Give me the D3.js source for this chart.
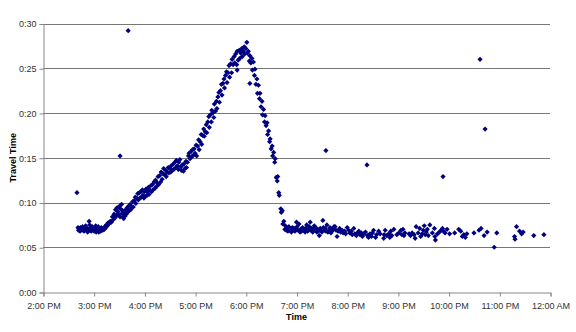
<!DOCTYPE html>
<html>
<head>
<meta charset="utf-8">
<script src="https://cdn.jsdelivr.net/npm/d3@7"></script>
<style>
  body { margin: 0; background: #fff; }
  svg { display: block; font-family: Arial, "Liberation Sans", sans-serif; }
</style>
</head>
<body>
<div id="chart"></div>
<script>
// [clock hour (24h, decimal), travel time in minutes]
const earlyFlat = [
  [14.69,7.2],[14.70,6.9],[14.71,7.1],[14.72,7.0],[14.73,6.8],[14.74,7.2],[14.75,7.0],[14.77,6.9],[14.78,7.3],[14.80,7.1],
  [14.81,6.8],[14.83,7.0],[14.84,7.4],[14.86,6.9],[14.87,7.1],[14.88,6.7],[14.90,7.0],[14.91,7.9],[14.92,7.5],[14.93,6.9],
  [14.94,7.2],[14.95,6.8],[14.96,7.0],[14.97,7.3],[14.99,6.9],[15.00,7.1],[15.01,6.8],[15.03,7.0],[15.04,7.4],[15.05,6.7],
  [15.06,7.2],[15.08,6.9],[15.09,7.3],[15.10,6.7],[15.11,6.9],[15.13,7.0],[15.14,6.8],[15.15,7.2],[15.17,7.0],[15.18,6.9],
  [15.19,7.1],[15.21,7.0],[15.22,7.3],[15.24,7.2],[15.25,7.5],[15.27,7.4],[15.28,7.7],[15.30,7.6],[15.31,7.8],[15.33,7.9]
]

const afternoonRise = [
  [15.35,7.8],[15.37,8.4],[15.39,8.1],[15.40,8.7],[15.42,8.3],[15.43,9.2],[15.45,8.5],[15.46,9.4],[15.47,8.8],[15.48,9.0],
  [15.50,8.6],[15.51,9.6],[15.52,8.4],[15.53,9.3],[15.55,9.8],[15.56,8.8],[15.57,9.1],[15.58,8.4],[15.59,8.2],[15.60,8.8],
  [15.62,8.5],[15.63,9.2],[15.64,8.7],[15.66,9.4],[15.67,8.9],[15.69,9.6],[15.70,9.1],[15.72,9.8],[15.73,9.2],[15.75,9.5],
  [15.77,10.1],[15.78,9.5],[15.80,10.2],[15.82,10.6],[15.83,9.9],[15.85,10.5],[15.87,11.0],[15.88,10.3],[15.90,11.1],[15.91,10.5],
  [15.93,11.2],[15.94,10.6],[15.96,11.4],[15.97,10.8],[15.99,10.5],
  [16.00,11.2],[16.02,10.7],[16.03,11.5],[16.05,10.8],[16.06,11.2],[16.08,11.7],[16.09,10.9],[16.11,11.4],[16.13,11.9],[16.14,11.2],
  [16.16,12.0],[16.17,11.4],[16.19,12.3],[16.21,11.6],[16.22,12.5],[16.24,11.8],[16.25,12.2],[16.27,12.9],[16.28,12.0],[16.30,13.0],
  [16.32,12.3],[16.33,13.4],[16.35,12.6],[16.37,13.2],[16.38,13.8],[16.40,13.1],[16.42,13.6],[16.43,12.9],[16.45,13.4],[16.47,13.9],
  [16.48,13.3],[16.50,13.8],[16.52,13.4],[16.53,14.1],[16.55,13.6],[16.57,14.3],[16.58,13.7],[16.60,14.5],[16.62,13.9],[16.63,14.7],
  [16.65,14.1],[16.67,13.7],[16.68,14.5],[16.70,14.8],[16.72,14.0],[16.73,13.6],[16.75,14.2],[16.77,13.5],[16.78,14.3],[16.80,13.8],
  [16.82,14.6],[16.83,13.9],[16.85,14.5],[16.87,15.2],[16.88,15.5],[16.90,14.9],[16.92,15.7],[16.93,15.1],[16.95,15.9],[16.97,15.3],
  [16.98,16.0]
]

const eveningPeak = [
  [17.00,15.5],[17.02,16.4],[17.03,15.2],[17.05,16.3],[17.07,17.0],[17.08,15.9],[17.10,16.8],[17.12,17.6],[17.13,16.5],[17.15,17.5],
  [17.17,18.2],[17.18,17.4],[17.20,17.9],[17.22,18.7],[17.23,17.8],[17.25,19.0],[17.27,19.6],[17.28,18.4],[17.30,19.8],[17.32,19.0],
  [17.33,20.3],[17.35,20.0],[17.37,19.5],[17.38,21.0],[17.40,20.2],[17.42,21.3],[17.43,20.5],[17.45,21.8],[17.47,22.3],[17.48,21.2],
  [17.50,22.5],[17.52,23.2],[17.53,22.0],[17.55,23.3],[17.57,23.8],[17.58,22.8],[17.60,24.2],[17.62,24.6],[17.63,23.4],[17.65,24.5],
  [17.67,25.3],[17.68,24.0],[17.70,25.5],[17.72,24.5],[17.73,26.0],[17.75,25.4],[17.77,26.3],[17.78,25.6],[17.80,26.6],[17.82,25.4],
  [17.83,24.8],[17.83,26.9],[17.85,25.9],[17.87,27.0],[17.88,26.1],[17.90,26.7],[17.92,27.2],[17.93,26.3],[17.95,26.9],[17.97,27.4],
  [17.98,26.6],[18.00,27.2],[18.02,27.9],[18.03,26.7],[18.05,26.9],[18.07,25.8],[18.08,26.4],[18.08,23.3],[18.10,25.6],[18.12,26.1],
  [18.13,24.8],[18.15,25.7],[18.17,24.2],[18.18,24.9],[18.20,23.2],[18.22,23.8],[18.23,22.2],[18.25,23.1],[18.27,21.6],[18.28,22.2],
  [18.30,20.7],[18.32,21.3],[18.33,19.8],[18.35,20.4],[18.37,19.0],[18.38,19.7],[18.40,18.6],[18.42,18.9],[18.43,17.6],[18.45,18.0],
  [18.47,16.8],[18.48,17.1],[18.50,16.0],[18.52,16.3],[18.53,15.2],[18.55,15.6],[18.57,14.5],[18.58,14.9],[18.60,12.8],[18.62,12.4],
  [18.63,12.9],[18.65,11.1],[18.66,10.8],[18.69,9.3],[18.70,8.9],[18.72,9.1],[18.73,7.6],[18.75,7.9],[18.77,7.0],[18.78,7.4],[18.80,6.9]
]

const nightFlat = [
  [18.82,7.1],[18.83,6.8],[18.85,7.3],[18.87,6.9],[18.88,7.0],[18.90,6.7],[18.92,7.2],[18.93,6.9],[18.95,7.1],[18.97,6.8],
  [18.98,7.0],[19.00,7.8],[19.01,7.3],[19.03,6.9],[19.05,7.6],[19.07,6.7],[19.08,7.0],[19.10,6.8],[19.12,7.2],[19.13,6.9],
  [19.15,7.0],[19.17,6.7],[19.18,7.1],[19.20,7.5],[19.22,6.8],[19.23,7.0],[19.25,7.3],[19.27,7.8],[19.28,6.9],[19.30,7.1],
  [19.32,6.7],[19.33,7.0],[19.35,7.4],[19.37,6.9],[19.38,7.2],[19.40,6.7],[19.42,7.0],[19.43,6.8],[19.45,6.3],[19.47,7.1],
  [19.48,6.9],[19.50,6.7],[19.52,8.0],[19.53,7.2],[19.55,6.9],[19.57,7.1],[19.58,6.8],[19.60,7.5],[19.62,6.7],[19.64,6.9],
  [19.66,7.2],[19.68,6.6],[19.70,6.8],[19.72,7.0],[19.74,7.3],[19.76,7.3],[19.78,6.9],[19.80,6.2],[19.82,6.8],[19.85,7.1],
  [19.87,6.7],[19.90,6.9],[19.92,6.6],[19.95,6.8],[19.97,6.5],[20.00,7.2],[20.03,6.9],[20.05,6.6],[20.08,6.8],[20.10,6.4],
  [20.13,7.1],[20.15,6.5],[20.18,6.3],[20.20,6.6],[20.23,6.8],[20.25,6.4],[20.28,6.6],[20.30,6.2],[20.33,6.5],[20.36,6.7],
  [20.40,6.3],[20.42,6.1],[20.45,6.5],[20.48,6.2],[20.50,6.6],[20.52,6.9],[20.56,6.1],[20.58,6.4],[20.62,6.8],[20.65,6.5],
  [20.72,6.0],[20.73,6.4],[20.75,6.9],[20.78,6.3],
  [20.82,6.5],[20.84,6.1],[20.86,6.8],[20.88,6.3],[20.92,7.0],[20.98,6.4],[21.02,6.6],[21.06,6.9],[21.08,6.4],[21.10,7.0],
  [21.12,6.3],[21.14,6.6],[21.22,6.5],[21.25,6.3],[21.28,6.6],[21.32,6.4],[21.34,6.0],[21.36,7.3],[21.40,6.6],[21.43,7.1],
  [21.45,6.2],[21.48,6.5],[21.50,6.9],[21.52,7.4],[21.54,6.4],[21.56,6.7],[21.58,7.0],[21.60,6.3],[21.63,7.5],[21.68,6.6],
  [21.72,7.1],[21.73,6.2],[21.74,5.8],[21.78,6.5],[21.82,6.7],[21.85,6.9],[21.88,7.1],[21.90,6.8],[21.93,6.6],[21.97,7.0],
  [22.02,6.5],[22.12,6.6],[22.20,7.0],[22.24,6.8],[22.27,6.2],[22.30,6.4],[22.33,6.1],[22.36,6.5],[22.50,6.6],[22.60,6.9],
  [22.64,7.1],[22.70,6.3],[22.76,6.7],[22.95,6.6],[23.30,6.2],[23.31,5.9],[23.34,7.3],[23.40,6.8],[23.44,6.5],[23.47,6.7],
  [23.68,6.3],[23.88,6.4]
]

const outliers = [
  [14.67,11.1],[15.52,15.2],[15.68,29.2],[19.58,15.8],[20.39,14.2],[21.89,12.9],[22.62,26.0],[22.72,18.2],[22.90,5.0]
]

const hourTicks = d3.range(14, 25)          // 2:00 PM .. 12:00 AM
const minuteTicks = d3.range(0, 31, 5)      // 0:00 .. 0:30

const width = 576, height = 332
const margin = { top: 23.5, right: 26, bottom: 40, left: 43 }

const x = d3.scaleLinear().domain([14, 24]).range([margin.left, width - margin.right])
const y = d3.scaleLinear().domain([0, 30]).range([height - margin.bottom, margin.top])

function hourLabel(h) {
  const hh = h % 24
  const ampm = hh < 12 ? "AM" : "PM"
  const h12 = hh % 12 === 0 ? 12 : hh % 12
  return `${h12}:00 ${ampm}`
}

const svg = d3.select("#chart").append("svg")
  .attr("width", width)
  .attr("height", height)

/* gridlines */
svg.append("g")
  .selectAll("line")
  .data(minuteTicks.filter(d => d > 0))
  .join("line")
  .attr("x1", margin.left)
  .attr("x2", width - margin.right)
  .attr("y1", d => Math.round(y(d)) + 0.5)
  .attr("y2", d => Math.round(y(d)) + 0.5)
  .attr("stroke", "#777")
  .attr("stroke-width", 1)

/* y axis */
const yAxis = svg.append("g")
  .attr("transform", `translate(${margin.left + 0.5},0.5)`)
  .call(d3.axisLeft(y).tickValues(minuteTicks).tickSize(4).tickPadding(3)
    .tickFormat(d => "0:" + String(d).padStart(2, "0")))
yAxis.select(".domain").attr("stroke", "#888")
yAxis.selectAll(".tick line").attr("stroke", "#888")
yAxis.selectAll("text").attr("font-size", 9).attr("fill", "#333")
  .attr("font-family", "Arial, 'Liberation Sans', sans-serif")

/* x axis */
const xAxis = svg.append("g")
  .attr("transform", `translate(0.5,${Math.round(y(0)) + 0.5})`)
  .call(d3.axisBottom(x).tickValues(hourTicks).tickSize(4).tickPadding(6)
    .tickFormat(hourLabel))
xAxis.select(".domain").attr("stroke", "#888")
xAxis.selectAll(".tick line").attr("stroke", "#888")
xAxis.selectAll("text").attr("font-size", 9).attr("fill", "#333")
  .attr("font-family", "Arial, 'Liberation Sans', sans-serif")

/* axis titles */
svg.append("text")
  .attr("x", (x(14) + x(24)) / 2)
  .attr("y", 320)
  .attr("text-anchor", "middle")
  .attr("font-size", 9)
  .attr("font-weight", "bold")
  .text("Time")

svg.append("text")
  .attr("transform", `translate(16,${(y(0) + y(30)) / 2}) rotate(-90)`)
  .attr("text-anchor", "middle")
  .attr("font-size", 9)
  .attr("font-weight", "bold")
  .text("Travel Time")

/* the points */
const allPoints = [...earlyFlat, ...afternoonRise, ...eveningPeak, ...nightFlat, ...outliers]
const diamond = "M0,-2.6L2.6,0L0,2.6L-2.6,0Z"

svg.append("g")
  .selectAll("path")
  .data(allPoints)
  .join("path")
  .attr("transform", d => `translate(${x(d[0])},${y(d[1])})`)
  .attr("d", diamond)
  .attr("fill", "#000080")
</script>
</body>
</html>
